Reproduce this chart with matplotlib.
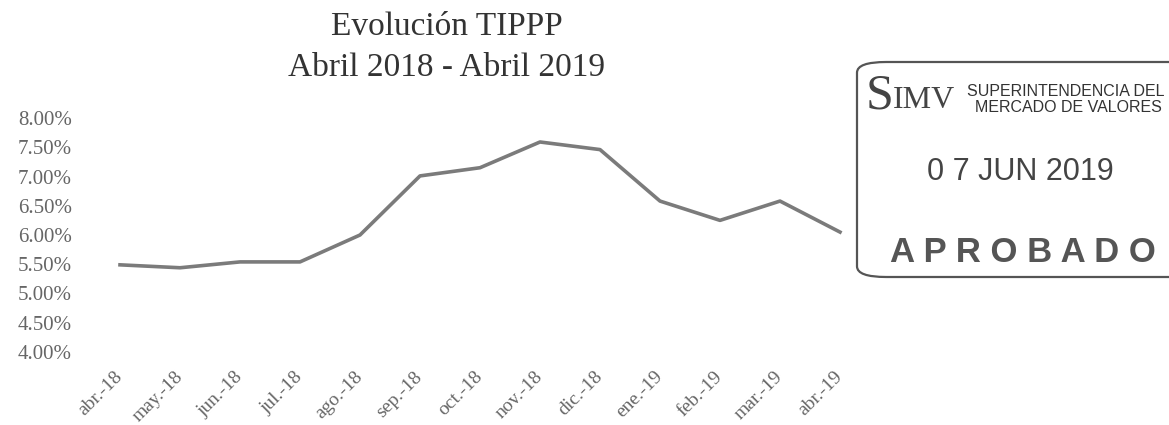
import matplotlib
matplotlib.use('Agg')
import matplotlib.pyplot as plt
from matplotlib.patches import FancyBboxPatch
from matplotlib import font_manager

meses = ['abr.-18', 'may.-18', 'jun.-18', 'jul.-18', 'ago.-18', 'sep.-18', 'oct.-18',
         'nov.-18', 'dic.-18', 'ene.-19', 'feb.-19', 'mar.-19', 'abr.-19']
tippp = [5.49, 5.44, 5.54, 5.54, 6.00, 7.01, 7.15, 7.59, 7.46, 6.58, 6.25, 6.58, 6.05]
yticks = [4.0, 4.5, 5.0, 5.5, 6.0, 6.5, 7.0, 7.5, 8.0]

serif = 'Liberation Serif'
installed = {f.name for f in font_manager.fontManager.ttflist}
narrow = 'Liberation Sans'
for cand in ['Liberation Sans Narrow', 'DejaVu Sans Condensed']:
  if cand in installed:
    narrow = cand
    break

fig = plt.figure(figsize=(11.69, 4.25), dpi=100)
ax = fig.add_axes([90/1169, 1-352/425, 780/1169, 234/425])

ax.plot(range(len(meses)), tippp, color='#7b7b7b', linewidth=2.6, solid_joinstyle='round')
ax.set_xlim(-0.5, len(meses) - 0.5)
ax.set_ylim(4.0, 8.0)
ax.set_yticks(yticks)
ax.set_yticklabels(['%.2f%%' % v for v in yticks], family=serif, fontsize=15, color='#666666')
ax.set_xticks(range(len(meses)))
ax.set_xticklabels(meses, family=serif, fontsize=14, color='#666666',
                   rotation=45, ha='right', va='center', rotation_mode='anchor')
ax.tick_params(axis='y', length=0, pad=13)
ax.tick_params(axis='x', length=0, pad=16)
for s in ax.spines.values():
  s.set_visible(False)
ax.patch.set_visible(False)

fig.text(447/1169, 1-27/425, 'Evolución TIPPP', family=serif, fontsize=24,
         color='#333333', ha='center', va='center')
fig.text(447/1169, 1-68/425, 'Abril 2018 - Abril 2019', family=serif, fontsize=24,
         color='#333333', ha='center', va='center')

# sello
stamp = FancyBboxPatch((857/1169, 1-277/425), 360/1169, 215/425,
                       boxstyle='round,pad=0,rounding_size=0.025',
                       transform=fig.transFigure, facecolor='none',
                       edgecolor='#555555', linewidth=1.6, clip_on=False)
fig.patches.append(stamp)
fig.text(866/1169, 1-96/425, 'S', family=serif, fontsize=36, color='#444444',
         ha='left', va='center')
fig.text(893/1169, 1-101/425, 'IMV', family=serif, fontsize=23, color='#444444',
         ha='left', va='center')
fig.text(1066/1169, 1-91/425, 'SUPERINTENDENCIA DEL', family='Liberation Sans',
         fontsize=11.5, color='#333333', ha='center', va='center')
fig.text(1068/1169, 1-108/425, 'MERCADO DE VALORES', family='Liberation Sans',
         fontsize=11.5, color='#333333', ha='center', va='center')
fig.text(1020/1169, 1-172/425, '0 7 JUN 2019', family=narrow, fontsize=22,
         color='#444444', ha='center', va='center')
fig.text(1023/1169, 1-252/425, 'A P R O B A D O', family='Liberation Sans',
         fontsize=25, fontweight='bold', color='#555555', ha='center', va='center')

fig.savefig('out.png', dpi=100)
